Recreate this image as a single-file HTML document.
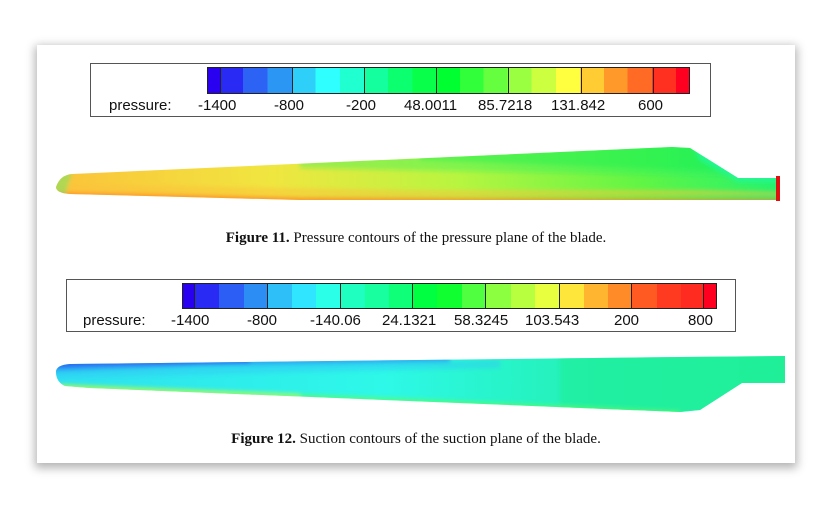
<!DOCTYPE html>
<html><head><meta charset="utf-8"><style>
html,body{margin:0;padding:0;background:#fff;}
body{width:832px;height:507px;position:relative;overflow:hidden;font-family:"Liberation Sans",sans-serif;}
.card{position:absolute;left:37px;top:45px;width:758px;height:418px;background:#fff;box-shadow:0 3px 9px 2px rgba(0,0,0,0.3);}
.lg{position:absolute;border:1px solid #555;background:#fff;}
.cb{position:absolute;border:1px solid #222;}
.lab{position:absolute;font-size:15px;color:#111;white-space:nowrap;}
.cap{position:absolute;width:100%;text-align:center;font-family:"Liberation Serif",serif;font-size:15px;color:#111;}
</style></head><body>
<div class="card"></div>

<div class="lg" style="left:90px;top:63px;width:619px;height:52px;"></div>
<div class="cb" style="left:207px;top:67px;width:481px;height:25px;background:linear-gradient(to right,#2a00f0 0 2.7%,#2a2af5 2.7% 7.3%,#2c63f5 7.3% 12.4%,#2c96f5 12.4% 17.5%,#2ecff8 17.5% 22.4%,#30ffff 22.4% 27.4%,#1fffd0 27.4% 32.5%,#14ff9e 32.5% 37.4%,#0bff6e 37.4% 42.5%,#08ff4a 42.5% 47.4%,#00ff30 47.4% 52.4%,#30ff3a 52.4% 57.3%,#66ff40 57.3% 62.3%,#99ff40 62.3% 67.3%,#ccff40 67.3% 72.3%,#ffff40 72.3% 77.3%,#ffcc33 77.3% 82.3%,#ff9a2a 82.3% 87.2%,#ff6a25 87.2% 92.3%,#ff3020 92.3% 97.3%,#ff0020 97.3% 100%);"></div>
<svg style="position:absolute;left:207px;top:67px" width="483" height="27">
<g stroke="#222" stroke-width="1"><line x1="13.5" y1="0" x2="13.5" y2="27"/><line x1="85.5" y1="0" x2="85.5" y2="27"/><line x1="157.5" y1="0" x2="157.5" y2="27"/><line x1="229.5" y1="0" x2="229.5" y2="27"/><line x1="301.5" y1="0" x2="301.5" y2="27"/><line x1="374.5" y1="0" x2="374.5" y2="27"/><line x1="446.5" y1="0" x2="446.5" y2="27"/></g></svg>
<div class="lab" style="left:109px;top:97px;">pressure:</div>
<div class="lab" style="left:198px;top:97px;">-1400</div>
<div class="lab" style="left:274px;top:97px;">-800</div>
<div class="lab" style="left:346px;top:97px;">-200</div>
<div class="lab" style="left:404px;top:97px;">48.0011</div>
<div class="lab" style="left:478px;top:97px;">85.7218</div>
<div class="lab" style="left:551px;top:97px;">131.842</div>
<div class="lab" style="left:638px;top:97px;">600</div>

<svg style="position:absolute;left:0;top:0" width="832" height="507">
<defs>
<filter id="bl" x="-5%" y="-50%" width="110%" height="200%"><feGaussianBlur stdDeviation="2"/></filter>
<clipPath id="c1"><path d="M56,187 Q60,175 72,174 L672,147 L690,148 L738,178 L779,178 L779,200 L300,200 L70,194 Q56,193 56,187 Z"/></clipPath>
<clipPath id="c2"><path d="M56,372 Q56,365 70,364 L680,357 L785,356 L785,383 L742,383 L700,410 L680,412 L90,388 L65,386 Q56,382 56,372 Z"/></clipPath>
<linearGradient id="g1" x1="0" y1="0" x2="1" y2="0"><stop offset="0" stop-color="#fcc23a"/><stop offset="0.3" stop-color="#f0e640"/><stop offset="0.55" stop-color="#b8f540"/><stop offset="0.8" stop-color="#60f545"/><stop offset="1" stop-color="#20f270"/></linearGradient>
<linearGradient id="g2" x1="0" y1="0" x2="1" y2="0"><stop offset="0" stop-color="#2ee0f0"/><stop offset="0.45" stop-color="#2ef8e8"/><stop offset="0.75" stop-color="#22f0b0"/><stop offset="1" stop-color="#22f098"/></linearGradient>
</defs>
<g clip-path="url(#c1)">
<rect x="50" y="140" width="740" height="70" fill="url(#g1)"/>
<g filter="url(#bl)">
<path d="M300,150 L700,140 L790,150 L790,176 L700,176 L500,172 L300,168 Z" fill="#1ff060" opacity="0.35"/>
<path d="M420,150 L700,140 L790,150 L790,172 L700,170 L420,160 Z" fill="#10f050" opacity="0.35"/>
<path d="M690,140 L800,140 L800,182 L738,182 L700,160 Z" fill="#20f89a" opacity="0.8"/>
<path d="M60,184 L400,190 L700,190 L790,192 L790,196 L400,196 L60,192 Z" fill="#fcc23a" opacity="0.55"/>
<path d="M50,192 L300,197 L700,199 L800,199 L800,210 L50,210 Z" fill="#ff8a28" opacity="0.8"/>
<path d="M50,172 L72,172 L64,200 L50,200 Z" fill="#50f070" opacity="0.45"/>
</g>
</g>
<rect x="776" y="176" width="4" height="25" fill="#e01010"/>
<g clip-path="url(#c2)">
<rect x="50" y="350" width="740" height="70" fill="url(#g2)"/>
<g filter="url(#bl)">
<path d="M50,360 L450,355 L450,362 L200,366 L50,372 Z" fill="#2c8ef5" opacity="0.7"/>
<path d="M50,360 L250,357 L250,363 L100,366 L50,368 Z" fill="#2a40f0" opacity="0.6"/>
<path d="M50,370 L500,360 L500,368 L50,378 Z" fill="#2ec0f8" opacity="0.4"/>
<path d="M560,350 L800,350 L800,420 L560,420 Z" fill="#22ee98" opacity="0.6"/>
<path d="M60,384 L400,398 L680,411 L680,416 L60,392 Z" fill="#60ff50" opacity="0.6"/>
<path d="M60,385 L300,394 L300,397 L60,389 Z" fill="#e8ff40" opacity="0.6"/>
</g>
</g>
</svg>

<div class="cap" style="top:230px;"><b>Figure 11.</b> Pressure contours of the pressure plane of the blade.</div>

<div class="lg" style="left:66px;top:279px;width:668px;height:51px;"></div>
<div class="cb" style="left:182px;top:283px;width:533px;height:24px;background:linear-gradient(to right,#2a00f0 0 12px,#2a2af5 12px 36px,#2c5ef5 36px 61px,#2c8ef5 61px 85px,#2ebef8 85px 109px,#30e5ff 109px 133px,#2cffe8 133px 158px,#1fffc0 158px 182px,#18ffa0 182px 206px,#10ff78 206px 230px,#00ff40 230px 254px,#10ff30 254px 279px,#50ff40 279px 303px,#8cff40 303px 328px,#b8ff40 328px 352px,#e8ff40 352px 377px,#ffe63a 377px 401px,#ffb530 401px 425px,#ff8a28 425px 449px,#ff5a22 449px 474px,#ff3a20 474px 498px,#ff2a20 498px 521px,#ff0020 521px 534px);"></div>
<svg style="position:absolute;left:182px;top:283px" width="535" height="26">
<g stroke="#222" stroke-width="1"><line x1="12.5" y1="0" x2="12.5" y2="26"/><line x1="85.5" y1="0" x2="85.5" y2="26"/><line x1="158.5" y1="0" x2="158.5" y2="26"/><line x1="230.5" y1="0" x2="230.5" y2="26"/><line x1="303.5" y1="0" x2="303.5" y2="26"/><line x1="377.5" y1="0" x2="377.5" y2="26"/><line x1="449.5" y1="0" x2="449.5" y2="26"/><line x1="521.5" y1="0" x2="521.5" y2="26"/></g></svg>
<div class="lab" style="left:83px;top:312px;">pressure:</div>
<div class="lab" style="left:171px;top:312px;">-1400</div>
<div class="lab" style="left:247px;top:312px;">-800</div>
<div class="lab" style="left:310px;top:312px;">-140.06</div>
<div class="lab" style="left:382px;top:312px;">24.1321</div>
<div class="lab" style="left:454px;top:312px;">58.3245</div>
<div class="lab" style="left:525px;top:312px;">103.543</div>
<div class="lab" style="left:614px;top:312px;">200</div>
<div class="lab" style="left:688px;top:312px;">800</div>

<div class="cap" style="top:431px;"><b>Figure 12.</b> Suction contours of the suction plane of the blade.</div>
</body></html>
